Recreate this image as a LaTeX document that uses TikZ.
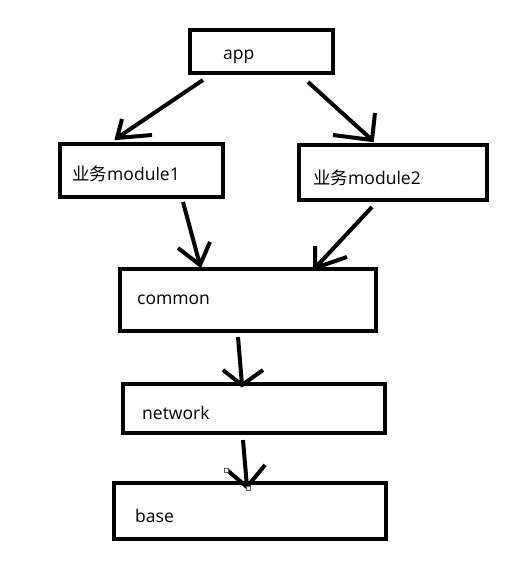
\documentclass[tikz,border=0pt]{standalone}
\usepackage{fontspec}
\setmainfont{Open Sans}
\newfontfamily\cjk{Noto Sans CJK SC}
\begin{document}
\begin{tikzpicture}[x=1pt,y=-1pt,
  box/.style={draw=black,line width=4pt,inner sep=0pt,fill=white},
  lbl/.style={anchor=base west,inner sep=0pt,font=\fontsize{17.5}{21}\selectfont},
  con/.style={draw=black,line width=4pt},
  handle/.style={draw=gray!70!black,line width=0.8pt,fill=white,inner sep=0pt,minimum size=4pt}]
\useasboundingbox[fill=white] (0,0) rectangle (529,575);
% boxes
\node[box,minimum width=143pt,minimum height=43pt] (app) at (261.5,51.5) {};
\node[box,minimum width=163pt,minimum height=53pt] (m1) at (141.5,170.5) {};
\node[box,minimum width=188pt,minimum height=55pt] (m2) at (393,172.5) {};
\node[box,minimum width=256pt,minimum height=62pt] (common) at (248,300) {};
\node[box,minimum width=262pt,minimum height=49pt] (network) at (254,408.5) {};
\node[box,minimum width=272pt,minimum height=56pt] (base) at (250,511) {};
% labels
\node[lbl] (tapp) at (223,60) {app};
\node[lbl] (tm1) at (72,180) {{\cjk 业务}module1};
\node[lbl] (tm2) at (313,184) {{\cjk 业务}module2};
\node[lbl] (tcommon) at (137,304) {common};
\node[lbl] (tnetwork) at (142,419) {network};
\node[lbl] (tbase) at (135,522) {base};
% connector points
\coordinate (a1s) at (203,80);  \coordinate (a1e) at (117,138);
\coordinate (a1l) at (122,119); \coordinate (a1r) at (152,135);
\coordinate (a2s) at (308,82);  \coordinate (a2e) at (372,140);
\coordinate (a2l) at (333,135); \coordinate (a2r) at (375,113);
\coordinate (a3s) at (183,202); \coordinate (a3e) at (200,265);
\coordinate (a3l) at (178,248); \coordinate (a3r) at (210,242);
\coordinate (a4s) at (372,207); \coordinate (a4e) at (315,268);
\coordinate (a4l) at (315,246); \coordinate (a4r) at (347,257);
\coordinate (a5s) at (238,337); \coordinate (a5e) at (242,385);
\coordinate (a5l) at (223,370); \coordinate (a5r) at (263,370);
\coordinate (a6s) at (243,440); \coordinate (a6e) at (247,487);
\coordinate (a6l) at (227,470); \coordinate (a6r) at (265,465);
% connectors
\draw[con] (a1s) -- (a1e) (a1l) -- (a1e) -- (a1r);
\draw[con] (a2s) -- (a2e) (a2l) -- (a2e) -- (a2r);
\draw[con] (a3s) -- (a3e) (a3l) -- (a3e) -- (a3r);
\draw[con] (a4s) -- (a4e) (a4l) -- (a4e) -- (a4r);
\draw[con] (a5s) -- (a5e) (a5l) -- (a5e) -- (a5r);
\draw[con] (a6s) -- (a6e) (a6l) -- (a6e) -- (a6r);
% editor handles
\node[handle] (h1) at (226,470) {};
\node[handle] (h2) at (248,488) {};
\end{tikzpicture}
\end{document}
